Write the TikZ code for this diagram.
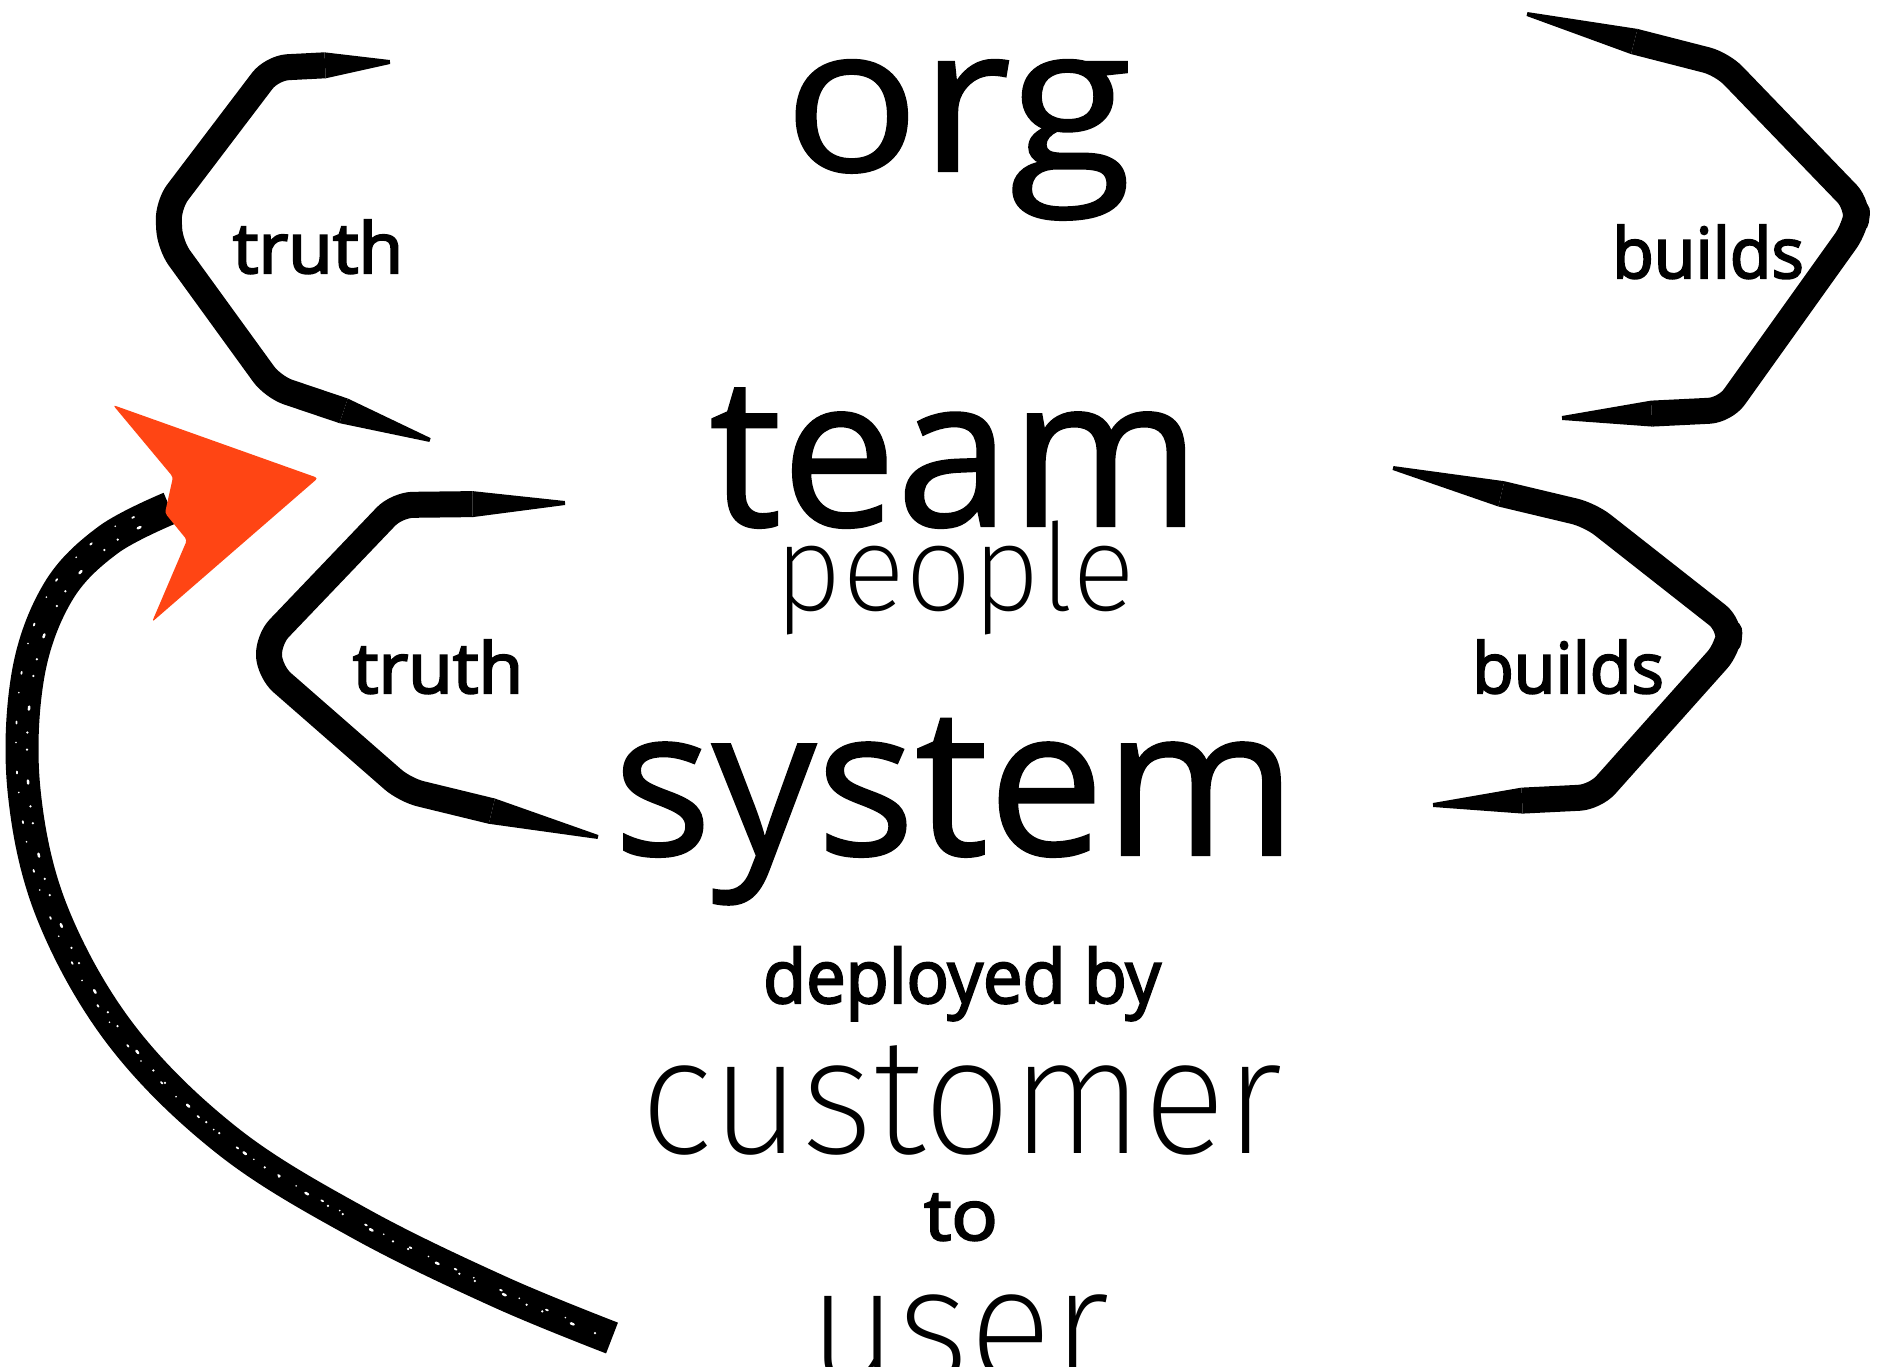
\documentclass[tikz,border=0pt]{standalone}
\usepackage{fontspec}
\usetikzlibrary{calc}
\newfontfamily\gill{Open Sans}[FakeBold=1]
\newfontfamily\gillb{Open Sans}[FakeBold=3]
\newfontfamily\thin{Fira Sans ExtraLight}
\definecolor{brushorange}{HTML}{FF4514}
\newcommand\fsz[1]{\fontsize{#1}{#1}\selectfont}
\tikzset{
  word/.style={anchor=base, inner sep=0pt, outer sep=0pt},
  brushline/.style={line width=26pt, rounded corners=16pt, line join=round},
  arrowshaft/.style={line width=33pt, line join=round, line cap=butt},
  speck/.style={white, line width=2.5pt, line cap=round},
  arrowhead/.style={fill=brushorange, rounded corners=3pt},
}
% tapered brush end: from #1 (half width #3) to #2 (half width #4)
\newcommand\brushtail[4]{%
  \fill ($(#1)!#3!90:(#2)$) -- ($(#2)!#4!-90:(#1)$) -- ($(#2)!#4!90:(#1)$) -- ($(#1)!#3!-90:(#2)$) -- cycle;}
% bracket: #1 end, #2 corner, #3, #4, #5 corner, #6 end, #7 prefix
\newcommand\brushbracket[7]{%
  \coordinate (#7ma) at ($(#2)!0.45!(#1)$);
  \coordinate (#7mb) at ($(#5)!0.45!(#6)$);
  \draw[brushline] (#7ma) -- (#2) -- (#3) -- (#4) -- (#5) -- (#7mb);
  \brushtail{#7ma}{#1}{13pt}{2pt}
  \brushtail{#7mb}{#6}{13pt}{2pt}}
\begin{document}
\begin{tikzpicture}[x=1pt,y=-1pt]
\clip (0,0) rectangle (1887,1366);
\fill[white] (0,0) rectangle (1887,1366);

% central words
\node[word] (org) at (958,171) {\gill\fsz{204}\scalebox{1.1}[1]{org}};
\node[word] (team) at (955,526) {\gill\fsz{209}\scalebox{0.98}[1]{team}};
\node[word] (people) at (955,610) {\thin\fsz{121}\scalebox{0.975}[1]{people}};
\node[word] (system) at (955,855) {\gill\fsz{207}system};
\node[word] (deployed) at (962,1003) {\gillb\fsz{74}\scalebox{0.95}[1]{deployed by}};
\node[word] (customer) at (962,1153) {\thin\fsz{165}\scalebox{0.94}[1]{customer}};
\node[word] (to) at (961,1240) {\gillb\fsz{70}\scalebox{1.1}[1]{to}};
\node[word] (user) at (959,1382) {\thin\fsz{165}\scalebox{0.94}[1]{user}};

% labels
\node[word] (truthA) at (318,273) {\gillb\fsz{70}\scalebox{1.04}[1]{truth}};
\node[word] (truthB) at (438,693) {\gillb\fsz{70}\scalebox{1.04}[1]{truth}};
\node[word] (buildsA) at (1708,278) {\gillb\fsz{70}\scalebox{0.97}[1]{builds}};
\node[word] (buildsB) at (1568,693) {\gillb\fsz{70}\scalebox{0.97}[1]{builds}};

% left top bracket
\coordinate (lt1) at (390,62);
\coordinate (lt2) at (272,68);
\coordinate (lt3) at (168,205);
\coordinate (lt4) at (170,245);
\coordinate (lt5) at (273,387);
\coordinate (lt6) at (430,440);
\brushbracket{lt1}{lt2}{lt3}{lt4}{lt5}{lt6}{lt}

% left bottom bracket
\coordinate (lb1) at (565,503);
\coordinate (lb2) at (397,505);
\coordinate (lb3) at (268,640);
\coordinate (lb4) at (270,672);
\coordinate (lb5) at (405,790);
\coordinate (lb6) at (598,837);
\brushbracket{lb1}{lb2}{lb3}{lb4}{lb5}{lb6}{lb}

% right top bracket
\coordinate (rt1) at (1527,14);
\coordinate (rt2) at (1722,64);
\coordinate (rt3) at (1858,205);
\coordinate (rt4) at (1855,228);
\coordinate (rt5) at (1725,410);
\coordinate (rt6) at (1562,418);
\brushbracket{rt1}{rt2}{rt3}{rt4}{rt5}{rt6}{rt}

% right bottom bracket
\coordinate (rb1) at (1393,468);
\coordinate (rb2) at (1590,515);
\coordinate (rb3) at (1730,625);
\coordinate (rb4) at (1728,648);
\coordinate (rb5) at (1595,797);
\coordinate (rb6) at (1433,805);
\brushbracket{rb1}{rb2}{rb3}{rb4}{rb5}{rb6}{rb}

% big arrow
\draw[arrowshaft] plot[smooth, tension=0.6] coordinates {(612,1338) (500,1292) (361,1224) (229,1142) (122,1036) (52,912) (24,790) (28,675) (58,592) (108,540) (170,508)};
\draw[speck, dash pattern=on 0pt off 23pt on 3pt off 31pt on 0pt off 17pt, transform canvas={shift={(5pt,-3pt)}}]
  plot[smooth, tension=0.6] coordinates {(590,1330) (500,1292) (361,1224) (229,1142) (122,1036) (52,912) (24,790) (28,675) (58,592) (108,540) (150,518)};
\draw[speck, line width=1.8pt, dash pattern=on 2pt off 29pt on 0pt off 19pt, dash phase=11pt, transform canvas={shift={(-6pt,5pt)}}]
  plot[smooth, tension=0.6] coordinates {(590,1330) (500,1292) (361,1224) (229,1142) (122,1036) (52,912) (24,790) (28,675) (58,592) (108,540) (150,518)};
\fill[arrowhead] (113,405) -- (318,478) -- (152,622) -- (187,540) -- (165,513) -- (173,477) -- cycle;
\end{tikzpicture}
\end{document}
